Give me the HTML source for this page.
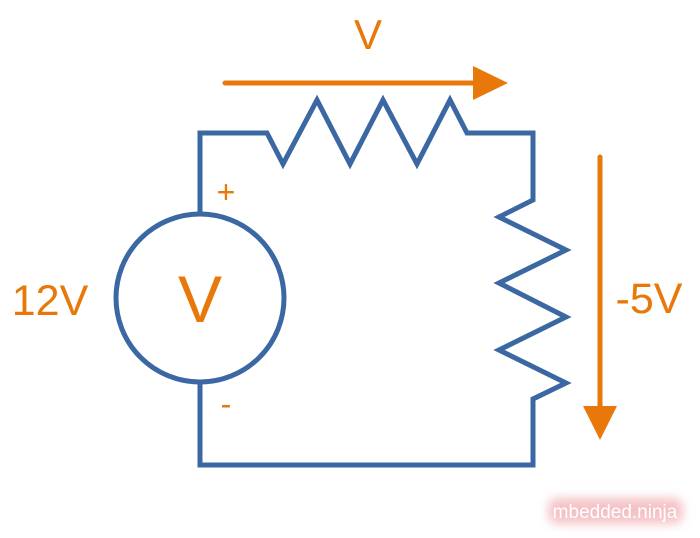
<!DOCTYPE html>
<html><head><style>
body{margin:0;background:#fff;width:700px;height:533px;overflow:hidden}
</style></head><body>
<svg width="700" height="533" viewBox="0 0 700 533" xmlns="http://www.w3.org/2000/svg">
<defs><filter id="g" x="-20%" y="-50%" width="140%" height="200%"><feGaussianBlur stdDeviation="5"/></filter></defs>
<g fill="none" stroke="#3b67a3" stroke-width="5" stroke-linejoin="miter">
<polyline points="200,215 200,133 267,133 283,164 317,100 350,164 383,100 417,164 450,100 467,133 533,133 533,200 499,217 566,250 499,283 566,317 499,350 566,383 533,399 533,465 200,465 200,383"/>
<circle cx="200" cy="298" r="84"/>
</g>
<g stroke="#e8780a" stroke-width="5" stroke-linecap="round" fill="#e8780a">
<line x1="225" y1="83" x2="478" y2="83"/>
<line x1="600" y1="157" x2="600" y2="410"/>
</g>
<polygon points="473,66 508,83 473,100" fill="#e8780a"/>
<polygon points="583,406 617,406 600,440" fill="#e8780a"/>
<g font-family="Liberation Sans, sans-serif" fill="#e8780a">
<text x="368" y="49" font-size="42" text-anchor="middle">V</text>
<text x="50" y="315" font-size="43" text-anchor="middle">12V</text>
<text x="200" y="322" font-size="66" text-anchor="middle">V</text>
<text x="649" y="313" font-size="43" text-anchor="middle">-5V</text>
<text x="226" y="203" font-size="32" text-anchor="middle">+</text>
<text x="226" y="415" font-size="32" text-anchor="middle">-</text>
</g>
<rect x="548" y="498" width="135" height="26" rx="10" fill="#f4c2c6" filter="url(#g)"/>
<text x="615" y="518" font-family="Liberation Sans, sans-serif" font-size="19" fill="#fff" text-anchor="middle">mbedded.ninja</text>
</svg>
</body></html>
